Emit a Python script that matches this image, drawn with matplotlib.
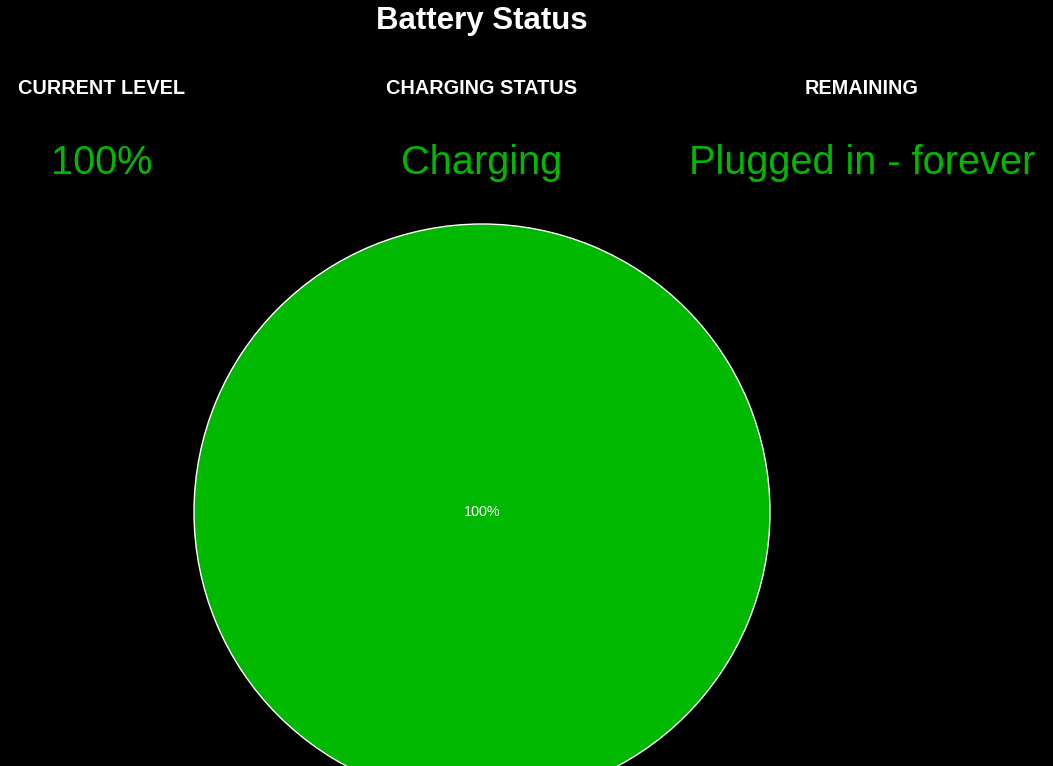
import matplotlib
matplotlib.use("Agg")
import matplotlib.pyplot as plt

title = "Battery Status"
stat_labels = ["CURRENT LEVEL", "CHARGING STATUS", "REMAINING"]
stat_values = ["100%", "Charging", "Plugged in - forever"]
pie_labels = ["Charged"]
pie_values = [100]

GREEN = "#00b800"
W, H = 1053, 766
plt.rcParams['font.family'] = ['Liberation Sans', 'DejaVu Sans']

fig = plt.figure(figsize=(W / 100, H / 100), dpi=100, facecolor="black")

def fx(px):
    return px / W

def fy(py):
    return 1 - py / H

fig.text(fx(482), fy(29.5), title, color="white", fontsize=22.5,
         fontweight="bold", ha="center", va="baseline")

col_x = [101.5, 482, 862]
for x, lab, val in zip(col_x, stat_labels, stat_values):
    fig.text(fx(x), fy(94), lab, color="white", fontsize=14.3,
             fontweight="bold", ha="center", va="baseline")
    fig.text(fx(x), fy(174.5), val, color=GREEN, fontsize=28.6,
             ha="center", va="baseline")

cx, cy, r = 482, 512, 288
ax = fig.add_axes([fx(cx - r), (H - cy - r) / H, 2 * r / W, 2 * r / H])
ax.set_facecolor("black")
wedges, texts, autotexts = ax.pie(
    pie_values, colors=[GREEN], autopct=lambda p: f"{p:.0f}%",
    pctdistance=0.0, startangle=90,
    wedgeprops=dict(edgecolor="white", linewidth=1.0),
    textprops=dict(color="white", fontsize=10.4))
ax.set_xlim(-1.0, 1.0)
ax.set_ylim(-1.0, 1.0)
ax.set_aspect("auto")
ax.axis("off")
for w in wedges:
    w.set_clip_on(False)

fig.savefig("out.png", dpi=100, facecolor="black")
